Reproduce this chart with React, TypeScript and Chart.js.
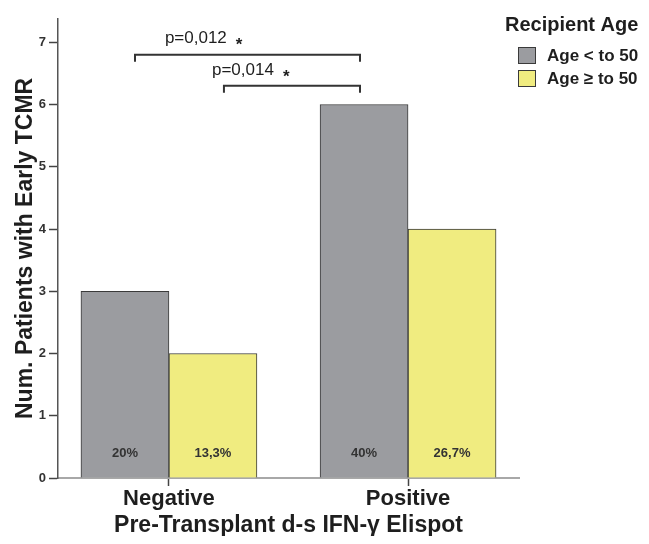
import React, { useEffect, useRef } from 'react';
import { Chart, registerables } from 'chart.js';

Chart.register(...registerables);

// ---- data ----
const categories = ['Negative', 'Positive'];
const seriesNames = ['Age < to 50', 'Age \u2265 to 50'];
const youngerCounts = [3, 6];
const olderCounts = [2, 4];
const youngerPct = ['20%', '40%'];
const olderPct = ['13,3%', '26,7%'];
const yTickValues = [0, 1, 2, 3, 4, 5, 6, 7];
const legendTitle = 'Recipient Age';
const xTitle = 'Pre-Transplant d-s IFN-\u03b3 Elispot';
const yTitle = 'Num. Patients with Early TCMR';
const comparisons = [
  { from: -0.142, to: 0.799, level: 6.8, label: 'p=0,012', labelAt: -0.017 },
  { from: 0.23, to: 0.799, level: 6.3, label: 'p=0,014', labelAt: 0.18 },
];

const GRAY = '#9b9ca0';
const YELLOW = '#f0ec80';
const BORDER = '#3a3a3a';
const TEXT = '#1e1e1e';
const FONT = '"Liberation Sans", Arial, sans-serif';

const pctLabels = [youngerPct, olderPct];

const overlayPlugin = {
  id: 'overlay',
  afterDatasetsDraw(chart: any) {
    const { ctx, scales } = chart;
    const x = scales.x;
    const y = scales.y;
    ctx.save();
    ctx.font = `bold 13px ${FONT}`;
    ctx.fillStyle = '#333';
    ctx.textAlign = 'center';
    ctx.textBaseline = 'middle';
    chart.data.datasets.forEach((ds: any, di: number) => {
      const meta = chart.getDatasetMeta(di);
      meta.data.forEach((el: any, i: number) => {
        ctx.fillText(pctLabels[di][i], el.x, y.getPixelForValue(0) - 25);
      });
    });
    ctx.strokeStyle = '#333';
    ctx.lineWidth = 2;
    comparisons.forEach((c) => {
      const x1 = x.getPixelForValue(c.from);
      const x2 = x.getPixelForValue(c.to);
      const yy = y.getPixelForValue(c.level);
      ctx.beginPath();
      ctx.moveTo(x1, yy + 7);
      ctx.lineTo(x1, yy);
      ctx.lineTo(x2, yy);
      ctx.lineTo(x2, yy + 7);
      ctx.stroke();
      ctx.font = `17px ${FONT}`;
      ctx.fillStyle = TEXT;
      ctx.textAlign = 'left';
      ctx.textBaseline = 'middle';
      const lx = x.getPixelForValue(c.labelAt);
      ctx.fillText(c.label, lx, yy - 16);
      const w = ctx.measureText(c.label).width;
      ctx.font = `bold 17px ${FONT}`;
      ctx.fillText('*', lx + w + 9, yy - 9);
    });
    ctx.restore();
  },
  afterDraw(chart: any) {
    const { ctx } = chart;
    ctx.save();
    ctx.fillStyle = TEXT;
    ctx.textBaseline = 'middle';
    ctx.textAlign = 'left';
    ctx.font = `bold 20px ${FONT}`;
    ctx.fillText(legendTitle, 497, 17);
    const colors = [GRAY, YELLOW];
    seriesNames.forEach((name, i) => {
      const top = 39 + i * 23;
      ctx.fillStyle = colors[i];
      ctx.fillRect(510, top, 18, 17);
      ctx.strokeStyle = BORDER;
      ctx.lineWidth = 1;
      ctx.strokeRect(510.5, top + 0.5, 17, 16);
      ctx.fillStyle = TEXT;
      ctx.font = `bold 17px ${FONT}`;
      ctx.fillText(name, 539, top + 9);
    });
    ctx.restore();
  },
};

export default function App() {
  const ref = useRef<HTMLCanvasElement | null>(null);
  useEffect(() => {
    if (!ref.current) return;
    const chart = new Chart(ref.current, {
      type: 'bar',
      data: {
        datasets: [
          {
            label: seriesNames[0],
            data: youngerCounts.map((v, i) => ({ x: i, y: v })),
            backgroundColor: GRAY,
            borderColor: BORDER,
            borderWidth: 1,
            barThickness: 88,
          },
          {
            label: seriesNames[1],
            data: olderCounts.map((v, i) => ({ x: i, y: v })),
            backgroundColor: YELLOW,
            borderColor: BORDER,
            borderWidth: 1,
            barThickness: 88,
          },
        ],
      },
      options: {
        animation: false,
        responsive: true,
        maintainAspectRatio: false,
        layout: { padding: { left: 0, right: 122, top: 0, bottom: 0 } },
        plugins: { legend: { display: false }, tooltip: { enabled: false } },
        scales: {
          x: {
            type: 'linear',
            offset: false,
            min: -0.464,
            max: 1.464,
            afterBuildTicks: (s: any) => {
              s.ticks = categories.map((_, i) => ({ value: i }));
            },
            afterFit: (s: any) => {
              s.height = 66;
            },
            ticks: {
              callback: (v: any) => categories[v] ?? '',
              font: { family: FONT, size: 22, weight: 'bold' },
              color: TEXT,
              padding: 0,
              autoSkip: false,
              maxRotation: 0,
            },
            grid: {
              display: true,
              offset: false,
              drawOnChartArea: false,
              drawTicks: true,
              tickLength: 8,
              tickColor: '#444',
              tickWidth: 1.5,
            },
            border: { display: true, color: '#a8a8a8', width: 2 },
            title: {
              display: true,
              text: xTitle,
              color: TEXT,
              font: { family: FONT, size: 23, weight: 'bold' },
              padding: { top: 0, bottom: 5 },
            },
          },
          y: {
            type: 'linear',
            min: 0,
            max: 7.377,
            afterBuildTicks: (s: any) => {
              s.ticks = yTickValues.map((v) => ({ value: v }));
            },
            afterFit: (s: any) => {
              s.width = 50;
            },
            ticks: {
              font: { family: FONT, size: 13, weight: 'bold' },
              color: '#333',
              padding: 3,
            },
            grid: {
              display: true,
              drawOnChartArea: false,
              drawTicks: true,
              tickLength: 9,
              tickColor: '#444',
              tickWidth: 1.5,
            },
            border: { display: true, color: '#555', width: 1.5 },
            title: {
              display: true,
              text: yTitle,
              color: TEXT,
              font: { family: FONT, size: 23, weight: 'bold' },
              padding: { top: 4, bottom: 0 },
            },
          },
        },
      },
      plugins: [overlayPlugin],
    } as any);
    return () => chart.destroy();
  }, []);
  return (
    <div style={{ width: 633, height: 536, marginBottom: -8, position: 'relative' }}>
      <canvas ref={ref} />
    </div>
  );
}
